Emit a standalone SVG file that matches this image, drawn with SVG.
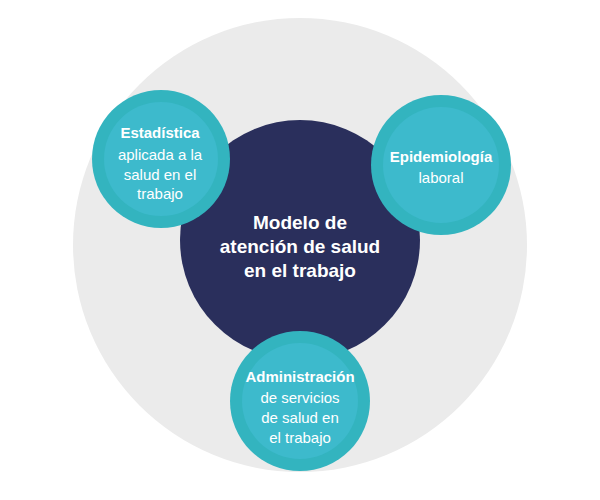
<svg xmlns="http://www.w3.org/2000/svg" width="600" height="500" viewBox="0 0 600 500">
<style>
.ring{fill:#33b4bf}.inner{fill:#3dbacc}
text{font-family:"Liberation Sans",Arial,sans-serif;fill:#fff;text-anchor:middle}
.s{font-size:15px}.b{font-weight:bold}
.m{font-size:19px;font-weight:bold}
</style>
<rect width="600" height="500" fill="#fff"/>
<g id="outer"><circle cx="300" cy="245" r="227" fill="#ebebeb"/></g>
<g id="connectors"></g>
<g id="center"><circle cx="300" cy="240" r="120" fill="#2a2f5c"/>
<text class="m" x="300" y="229">Modelo de</text>
<text class="m" x="300" y="253">atención de salud</text>
<text class="m" x="300" y="277">en el trabajo</text></g>
<g id="estadistica"><circle class="ring" cx="161" cy="159" r="69"/><circle class="inner" cx="161" cy="159" r="57"/>
<text class="s b" x="160" y="138">Estadística</text>
<text class="s" x="160" y="160">aplicada a la</text>
<text class="s" x="160" y="180">salud en el</text>
<text class="s" x="160" y="199">trabajo</text></g>
<g id="epidemiologia"><circle class="ring" cx="441" cy="165" r="70"/><circle class="inner" cx="441" cy="165" r="58"/>
<text class="s b" x="441" y="162">Epidemiología</text>
<text class="s" x="441" y="183">laboral</text></g>
<g id="administracion"><circle class="ring" cx="300" cy="401" r="70"/><circle class="inner" cx="300" cy="401" r="58"/>
<text class="s b" x="300" y="382">Administración</text>
<text class="s" x="300" y="403">de servicios</text>
<text class="s" x="300" y="423">de salud en</text>
<text class="s" x="300" y="443">el trabajo</text></g>
</svg>
